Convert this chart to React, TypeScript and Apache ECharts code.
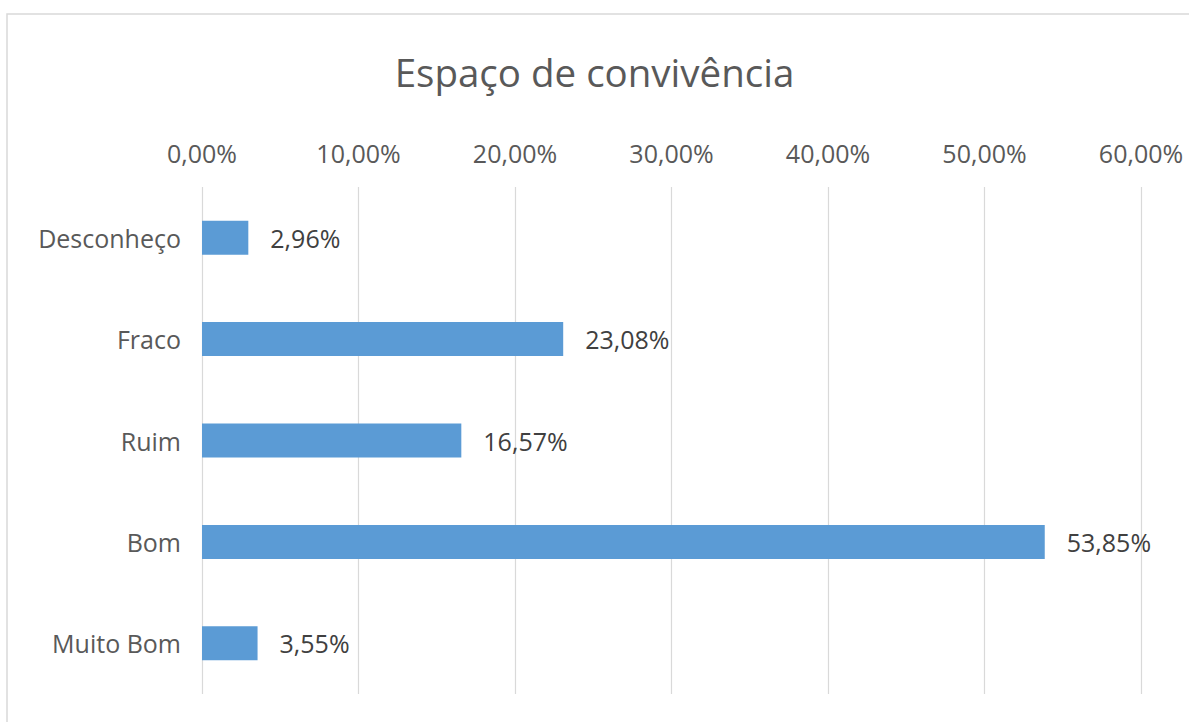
import React, { useEffect, useRef } from "react";
import * as echarts from "echarts";

const categories = ["Desconheço", "Fraco", "Ruim", "Bom", "Muito Bom"];
const values = [2.96, 23.08, 16.57, 53.85, 3.55];
const axisMax = 60;
const axisStep = 10;

const fmt = (v: number) => v.toFixed(2).replace(".", ",") + "%";

export default function App() {
  const ref = useRef<HTMLDivElement>(null);
  useEffect(() => {
    if (!ref.current) return;
    const chart = echarts.init(ref.current, null, { renderer: "svg" });
    const font = "'Open Sans', sans-serif";
    chart.setOption({
      animation: false,
      backgroundColor: "#ffffff",
      title: {
        text: "Espaço de convivência",
        left: "center",
        top: 47,
        textStyle: { fontFamily: font, fontSize: 38.5, fontWeight: "normal", color: "#595959" },
      },
      graphic: [
        {
          type: "rect",
          shape: { x: 7, y: 14, width: 1200, height: 720 },
          style: { fill: "none", stroke: "#d9d9d9", lineWidth: 1.5 },
          silent: true,
        },
      ],
      grid: { left: 202, right: 48, top: 187, bottom: 28, containLabel: false },
      xAxis: {
        type: "value",
        position: "top",
        min: 0,
        max: axisMax,
        interval: axisStep,
        axisLine: { show: false },
        axisTick: { show: false },
        splitLine: { show: true, lineStyle: { color: "#d9d9d9", width: 1.2 } },
        axisLabel: {
          margin: 22,
          fontFamily: font,
          fontSize: 25,
          color: "#595959",
          formatter: (v: number) => fmt(v),
        },
      },
      yAxis: {
        type: "category",
        data: categories,
        inverse: true,
        axisLine: { show: false },
        axisTick: { show: false },
        axisLabel: { margin: 21, fontFamily: font, fontSize: 25, color: "#595959" },
      },
      series: [
        {
          type: "bar",
          data: values,
          barWidth: 34,
          itemStyle: { color: "#5B9BD5" },
          label: {
            show: true,
            position: "right",
            distance: 22,
            fontFamily: font,
            fontSize: 25,
            color: "#404040",
            formatter: (p: any) => fmt(p.value),
          },
        },
      ],
    });
    return () => chart.dispose();
  }, []);
  return (
    <div
      ref={ref}
      style={{ position: "fixed", left: 0, top: 0, width: 1189, height: 722 }}
    />
  );
}
